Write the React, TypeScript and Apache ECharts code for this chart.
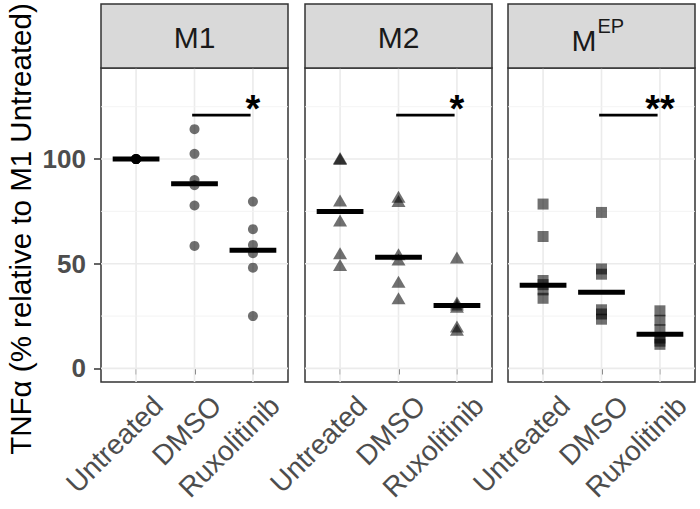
import React, { useEffect, useRef } from 'react';
import * as echarts from 'echarts';

const categories = ['Untreated', 'DMSO', 'Ruxolitinib'];
const panelLabels = ['M1', 'M2', 'M'];
const panelSup = ['', '', 'EP'];
const symbols = ['circle', 'triangle', 'rect'];

// values per panel, per treatment
const m1Untreated = [100, 100, 100, 100, 100, 100];
const m1Dmso = [114.3, 102.5, 90, 87.5, 77.8, 58.5];
const m1Ruxo = [79.7, 66.5, 59, 55, 48.1, 25];
const m2Untreated = [100.5, 100, 80.2, 70.6, 55, 49.4];
const m2Dmso = [82, 80, 54.5, 52, 41.4, 33.5];
const m2Ruxo = [53, 31.5, 30.5, 29.5, 20, 18.5];
const mepUntreated = [78.5, 63, 42, 40, 37.5, 33.5];
const mepDmso = [74.5, 47.5, 45, 28, 26, 23.5];
const mepRuxo = [27.5, 23, 18.5, 14.5, 13, 11.5];

const m1Medians = [100, 88.2, 56.4];
const m2Medians = [75, 53.1, 30.1];
const mepMedians = [39.7, 36.4, 16.3];

const sigLabels = ['*', '*', '**'];
const sigLineY = 121;
const sigFrom = 1.96;
const sigTo = 2.96;
const sigLabelX = 3;
const sigLabelY = 124;

const yTicks = [0, 50, 100];
const yMinor = [25, 75, 125];
const xTicks = [1, 2, 3];
const yMin = -6.5;
const yMax = 143.5;
const xMin = 0.4;
const xMax = 3.6;

const panelValues = [
  [m1Untreated, m1Dmso, m1Ruxo],
  [m2Untreated, m2Dmso, m2Ruxo],
  [mepUntreated, mepDmso, mepRuxo],
];
const panelMedians = [m1Medians, m2Medians, mepMedians];

const FONT = 'Liberation Sans, Arial, sans-serif';

export default function App() {
  const ref = useRef<HTMLDivElement>(null);
  useEffect(() => {
    if (!ref.current) return;
    const chart = echarts.init(ref.current, undefined, { renderer: 'svg' });
    const lefts = [101, 305, 508];
    const W = 187;
    const top = 68;
    const H = 314;
    const stripTop = 4;

    const grids = lefts.map((l) => ({
      left: l,
      top,
      width: W,
      height: H,
      show: true,
      borderColor: '#333333',
      borderWidth: 1.5,
      backgroundColor: '#ffffff',
      containLabel: false,
    }));

    const xAxes = lefts.map((_, i) => ({
      type: 'value',
      gridIndex: i,
      min: xMin,
      max: xMax,
      splitLine: { show: false },
      axisLine: { show: false },
      axisTick: {
        show: true,
        customValues: xTicks,
        length: 6,
        lineStyle: { color: '#333333', width: 1.5 },
      },
      axisLabel: { show: false, customValues: xTicks },
    }));

    const yAxes = lefts.map((_, i) => ({
      type: 'value',
      gridIndex: i,
      min: yMin,
      max: yMax,
      splitLine: { show: false },
      axisLine: { show: false },
      axisTick: {
        show: i === 0,
        customValues: yTicks,
        length: 7,
        lineStyle: { color: '#333333', width: 1.5 },
      },
      axisLabel: {
        show: i === 0,
        customValues: yTicks,
        fontSize: 26,
        fontWeight: 'bold',
        color: '#4d4d4d',
        fontFamily: FONT,
        margin: 15,
      },
    }));

    const gridLineData: number[][] = [];
    xTicks.forEach((x) => gridLineData.push([0, x, 1]));
    yTicks.forEach((y) => gridLineData.push([1, y, 1]));
    yMinor.forEach((y) => gridLineData.push([1, y, 0]));

    const series: any[] = [];
    panelValues.forEach((groups, i) => {
      series.push({
        type: 'custom',
        xAxisIndex: i,
        yAxisIndex: i,
        z: 1,
        silent: true,
        encode: { x: 1, y: 1 },
        data: gridLineData,
        renderItem: (params: any, api: any) => {
          const cs = params.coordSys;
          const kind = api.value(0);
          const v = api.value(1);
          const major = api.value(2) === 1;
          const style = { stroke: major ? '#ebebeb' : '#f2f2f2', lineWidth: major ? 1.6 : 0.9 };
          if (kind === 0) {
            const p = api.coord([v, yMin]);
            return { type: 'line', shape: { x1: p[0], y1: cs.y, x2: p[0], y2: cs.y + cs.height }, style };
          }
          const p = api.coord([xMin, v]);
          return { type: 'line', shape: { x1: cs.x, y1: p[1], x2: cs.x + cs.width, y2: p[1] }, style };
        },
      });
      // category labels under each tick (rotated 45°, top-right anchored like ggplot hjust=1, vjust=1)
      series.push({
        type: 'custom',
        xAxisIndex: i,
        yAxisIndex: i,
        z: 6,
        silent: true,
        clip: false,
        encode: { x: 0 },
        data: xTicks.map((x) => [x]),
        renderItem: (params: any, api: any) => {
          const x = api.value(0);
          const p = api.coord([x, yMin]);
          return {
            type: 'text',
            x: p[0] + 12,
            y: p[1] + 9,
            rotation: Math.PI / 4,
            style: {
              text: categories[Math.round(x) - 1],
              align: 'right',
              verticalAlign: 'top',
              textAlign: 'right',
              textVerticalAlign: 'top',
              fontSize: 28,
              fontFamily: FONT,
              fill: '#4d4d4d',
            },
          };
        },
      });
      const pts: number[][] = [];
      groups.forEach((vals, j) => vals.forEach((v) => pts.push([j + 1, v])));
      series.push({
        type: 'scatter',
        xAxisIndex: i,
        yAxisIndex: i,
        symbol: symbols[i],
        symbolSize: i === 0 ? 10 : i === 1 ? [14, 12] : 11,
        itemStyle: { color: 'rgba(0,0,0,0.7)', borderWidth: 0 },
        data: pts,
        z: 3,
      });
      series.push({
        type: 'custom',
        xAxisIndex: i,
        yAxisIndex: i,
        z: 4,
        encode: { x: 0, y: 1 },
        data: panelMedians[i].map((m, j) => [j + 1, m]),
        renderItem: (params: any, api: any) => {
          const x = api.value(0);
          const y = api.value(1);
          const p1 = api.coord([x - 0.4, y]);
          const p2 = api.coord([x + 0.4, y]);
          return {
            type: 'rect',
            shape: { x: p1[0], y: p1[1] - 2.5, width: p2[0] - p1[0], height: 5 },
            style: { fill: '#000000' },
          };
        },
      });
      series.push({
        type: 'custom',
        xAxisIndex: i,
        yAxisIndex: i,
        z: 5,
        encode: { x: 0, y: 2 },
        data: [[sigFrom, sigTo, sigLineY, sigLabelX, sigLabelY]],
        renderItem: (params: any, api: any) => {
          const a = api.coord([api.value(0), api.value(2)]);
          const b = api.coord([api.value(1), api.value(2)]);
          const t = api.coord([api.value(3), api.value(4)]);
          return {
            type: 'group',
            children: [
              {
                type: 'line',
                shape: { x1: a[0], y1: a[1], x2: b[0], y2: b[1] },
                style: { stroke: '#000000', lineWidth: 2.6 },
              },
              {
                type: 'text',
                x: t[0],
                y: t[1],
                style: {
                  text: sigLabels[i],
                  align: 'center',
                  verticalAlign: 'middle',
                  textAlign: 'center',
                  textVerticalAlign: 'middle',
                  fontSize: 38,
                  fontWeight: 'bold',
                  fontFamily: FONT,
                  fill: '#000000',
                },
              },
            ],
          };
        },
      });
    });

    const graphics: any[] = [];
    lefts.forEach((l, i) => {
      graphics.push({
        type: 'rect',
        shape: { x: l, y: stripTop, width: W, height: top - stripTop },
        style: { fill: '#d9d9d9', stroke: '#333333', lineWidth: 1.5 },
        z: 10,
      });
      if (panelSup[i]) {
        graphics.push({
          type: 'text',
          x: l + W / 2 - 5,
          y: 40,
          style: {
            text: panelLabels[i],
            align: 'right',
            verticalAlign: 'middle',
            textAlign: 'right',
            textVerticalAlign: 'middle',
            fontSize: 30,
            fontFamily: FONT,
            fill: '#1a1a1a',
          },
          z: 11,
        });
        graphics.push({
          type: 'text',
          x: l + W / 2 - 4,
          y: 26,
          style: {
            text: panelSup[i],
            align: 'left',
            verticalAlign: 'middle',
            textAlign: 'left',
            textVerticalAlign: 'middle',
            fontSize: 20,
            fontFamily: FONT,
            fill: '#1a1a1a',
          },
          z: 11,
        });
      } else {
        graphics.push({
          type: 'text',
          x: l + W / 2,
          y: 37,
          style: {
            text: panelLabels[i],
            align: 'center',
            verticalAlign: 'middle',
            textAlign: 'center',
            textVerticalAlign: 'middle',
            fontSize: 30,
            fontFamily: FONT,
            fill: '#1a1a1a',
          },
          z: 11,
        });
      }
    });
    graphics.push({
      type: 'text',
      x: 20,
      y: 229,
      rotation: Math.PI / 2,
      style: {
        text: 'TNFα (% relative to M1 Untreated)',
        align: 'center',
        verticalAlign: 'middle',
        textAlign: 'center',
        textVerticalAlign: 'middle',
        fontSize: 29.5,
        fontFamily: FONT,
        fill: '#000000',
      },
      z: 11,
    });

    chart.setOption({
      animation: false,
      backgroundColor: '#ffffff',
      grid: grids,
      xAxis: xAxes,
      yAxis: yAxes,
      series,
      graphic: graphics,
    });
    return () => chart.dispose();
  }, []);
  return (
    <div
      ref={ref}
      style={{ position: 'absolute', left: 0, top: 0, width: 700, height: 509 }}
    />
  );
}
